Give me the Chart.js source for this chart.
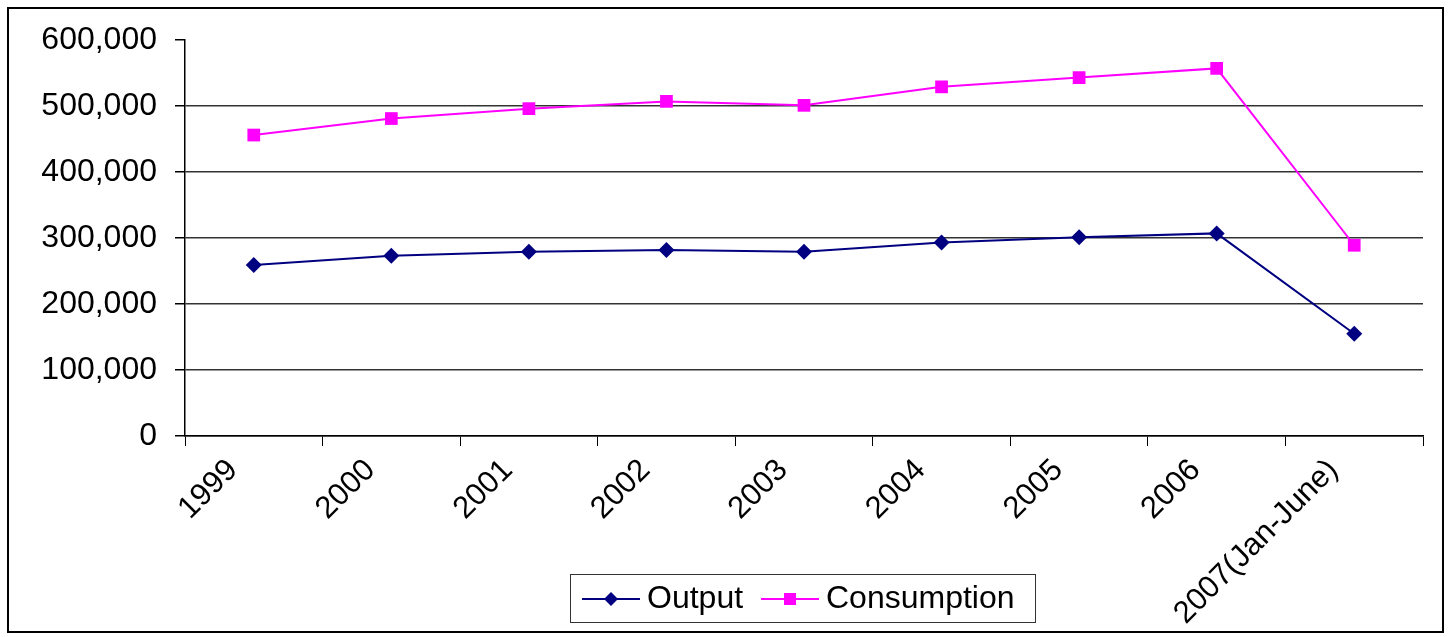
<!DOCTYPE html>
<html>
<head>
<meta charset="utf-8">
<script src="https://cdn.jsdelivr.net/npm/chart.js@4/dist/chart.umd.min.js"></script>
<style>
  body { margin: 0; background: #fff; }
  canvas { display: block; }
</style>
</head>
<body>
<canvas id="chart" width="1448" height="637"></canvas>
<script>
// output / consumption by year

const years = ['1999', '2000', '2001', '2002', '2003', '2004', '2005', '2006', '2007(Jan-June)'];
const output = [259000, 273000, 279000, 282000, 279000, 293000, 301000, 307000, 155000];
const consumption = [456000, 481000, 496000, 507000, 501000, 529000, 543000, 557000, 289000];
const yTicks = [0, 100000, 200000, 300000, 400000, 500000, 600000];

const FONT = "'Liberation Sans', Arial, sans-serif";

// outer frame + legend box (Excel style)
const framePlugin = {
  id: 'frame',
  afterDraw(chart) {
    const c = chart.ctx;
    c.save();
    c.strokeStyle = '#000';
    c.lineWidth = 2;
    c.strokeRect(8, 8, 1435, 624);

    // legend
    c.lineWidth = 1;
    c.strokeStyle = '#333';
    c.strokeRect(570.5, 574.5, 465, 48);
    const items = [
      { x: 582, textX: 647 },
      { x: 761, textX: 826 }
    ];
    const yMid = 599;
    chart.data.datasets.forEach((ds, i) => {
      const it = items[i];
      c.strokeStyle = ds.borderColor;
      c.lineWidth = 2;
      c.beginPath();
      c.moveTo(it.x, yMid);
      c.lineTo(it.x + 58, yMid);
      c.stroke();
      c.fillStyle = ds.backgroundColor;
      const mx = it.x + 29;
      if (ds.pointStyle === 'rectRot') {
        c.beginPath();
        c.moveTo(mx, yMid - 7);
        c.lineTo(mx + 7, yMid);
        c.lineTo(mx, yMid + 7);
        c.lineTo(mx - 7, yMid);
        c.closePath();
        c.fill();
      } else {
        c.fillRect(mx - 6, yMid - 6, 12, 12);
      }
      c.fillStyle = '#000';
      c.font = '32px ' + FONT;
      c.textBaseline = 'middle';
      c.textAlign = 'left';
      c.fillText(ds.label, it.textX, yMid);
    });
    c.restore();
  }
};

const ctx = document.getElementById('chart').getContext('2d');

const myChart = new Chart(ctx, {
  type: 'line',
  data: {
    labels: years,
    datasets: [{
      label: 'Output',
      data: output,
      borderColor: '#000080',
      backgroundColor: '#000080',
      borderWidth: 2,
      pointStyle: 'rectRot',
      pointRadius: 8,
      pointBorderWidth: 0,
      tension: 0
    }, {
      label: 'Consumption',
      data: consumption,
      borderColor: '#FF00FF',
      backgroundColor: '#FF00FF',
      borderWidth: 2,
      pointStyle: 'rect',
      pointRadius: 9,
      pointBorderWidth: 0,
      tension: 0
    }]
  },
  plugins: [framePlugin],
  options: {
    responsive: false,
    animation: false,
    layout: {
      padding: { top: 40, right: 25, left: 0, bottom: 0 }
    },
    scales: {
      x: {
        offset: true,
        grid: {
          offset: true,
          drawOnChartArea: false,
          drawTicks: true,
          tickLength: 10,
          color: '#000'
        },
        border: { color: '#000', width: 1.5 },
        ticks: {
          color: '#000',
          font: { family: FONT, size: 31 },
          minRotation: 45,
          maxRotation: 45,
          autoSkip: false,
          padding: 6,
          labelOffset: -21
        },
        afterFit(scale) { scale.height = 201; }
      },
      y: {
        min: 0,
        max: 600000,
        afterBuildTicks(scale) {
          scale.ticks = yTicks.map(v => ({ value: v }));
        },
        grid: {
          color: (c) => (c.tick && c.tick.value === 600000) ? 'rgba(0,0,0,0)' : '#333',
          tickColor: '#000',
          lineWidth: 1.5,
          tickLength: 10
        },
        border: { color: '#000', width: 1.5 },
        ticks: {
          color: '#000',
          font: { family: FONT, size: 32 },
          padding: 18,
          callback: function(value) {
            return value.toLocaleString('en-US');
          }
        },
        afterFit(scale) { scale.width = 185; }
      }
    },
    plugins: {
      legend: { display: false },
      tooltip: { enabled: false }
    }
  }
});
</script>
</body>
</html>
